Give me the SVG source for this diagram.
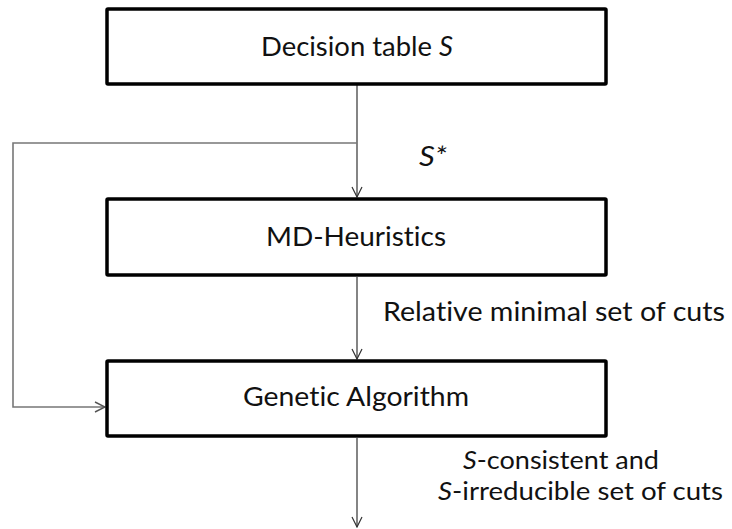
<svg xmlns="http://www.w3.org/2000/svg" width="732" height="529" viewBox="0 0 732 529">
<defs>
<style>
.box{fill:#fff;stroke:#000;stroke-width:3.5}
.t{font-family:Lato,"Open Sans","Liberation Sans",sans-serif;font-size:26.5px;fill:#111;font-variant-ligatures:none}
.s{font-size:25px}
.it{font-style:italic}
.c{fill:none;stroke:#333;stroke-width:1.2}
.g{fill:none;stroke:#777;stroke-width:1.6}
</style>
<marker id="ah" viewBox="0 0 12 12" refX="11" refY="6" markerWidth="12" markerHeight="12" markerUnits="userSpaceOnUse" orient="auto">
<path d="M1,1 L11,6 L1,11" fill="none" stroke="#333" stroke-width="1.2"/>
</marker>
<marker id="ahg" viewBox="0 0 12 12" refX="11" refY="6" markerWidth="12" markerHeight="12" markerUnits="userSpaceOnUse" orient="auto">
<path d="M1,1 L11,6 L1,11" fill="none" stroke="#555" stroke-width="1.4"/>
</marker>
</defs>
<rect width="732" height="529" fill="#fff"/>
<g id="connectors">
<line class="c" x1="357" y1="85" x2="357" y2="197" marker-end="url(#ah)"/>
<polyline class="g" points="357,143 13,143 13,407 105,407" marker-end="url(#ahg)"/>
<line class="c" x1="357" y1="277" x2="357" y2="359" marker-end="url(#ah)"/>
<line class="c" x1="357" y1="438" x2="357" y2="527" marker-end="url(#ah)"/>
<text class="t it" x="419" y="166" textLength="28" lengthAdjust="spacingAndGlyphs">S*</text>
<text class="t" x="383" y="321" textLength="342" lengthAdjust="spacingAndGlyphs">Relative minimal set of cuts</text>
<text class="t s" x="463" y="469" textLength="196" lengthAdjust="spacingAndGlyphs"><tspan class="it">S</tspan>-consistent and</text>
<text class="t s" x="438" y="500" textLength="285" lengthAdjust="spacingAndGlyphs"><tspan class="it">S</tspan>-irreducible set of cuts</text>
</g>
<g id="decision-table">
<rect class="box" x="107" y="9" width="499" height="75" rx="1"/>
<text class="t" x="261" y="56" textLength="192" lengthAdjust="spacingAndGlyphs">Decision table <tspan class="it">S</tspan></text>
</g>
<g id="md-heuristics">
<rect class="box" x="107" y="199" width="499" height="76" rx="1"/>
<text class="t" x="266" y="246" textLength="180" lengthAdjust="spacingAndGlyphs">MD-Heuristics</text>
</g>
<g id="genetic-algorithm">
<rect class="box" x="107" y="361" width="499" height="75" rx="1"/>
<text class="t" x="243" y="406" textLength="226" lengthAdjust="spacingAndGlyphs">Genetic Algorithm</text>
</g>
</svg>
